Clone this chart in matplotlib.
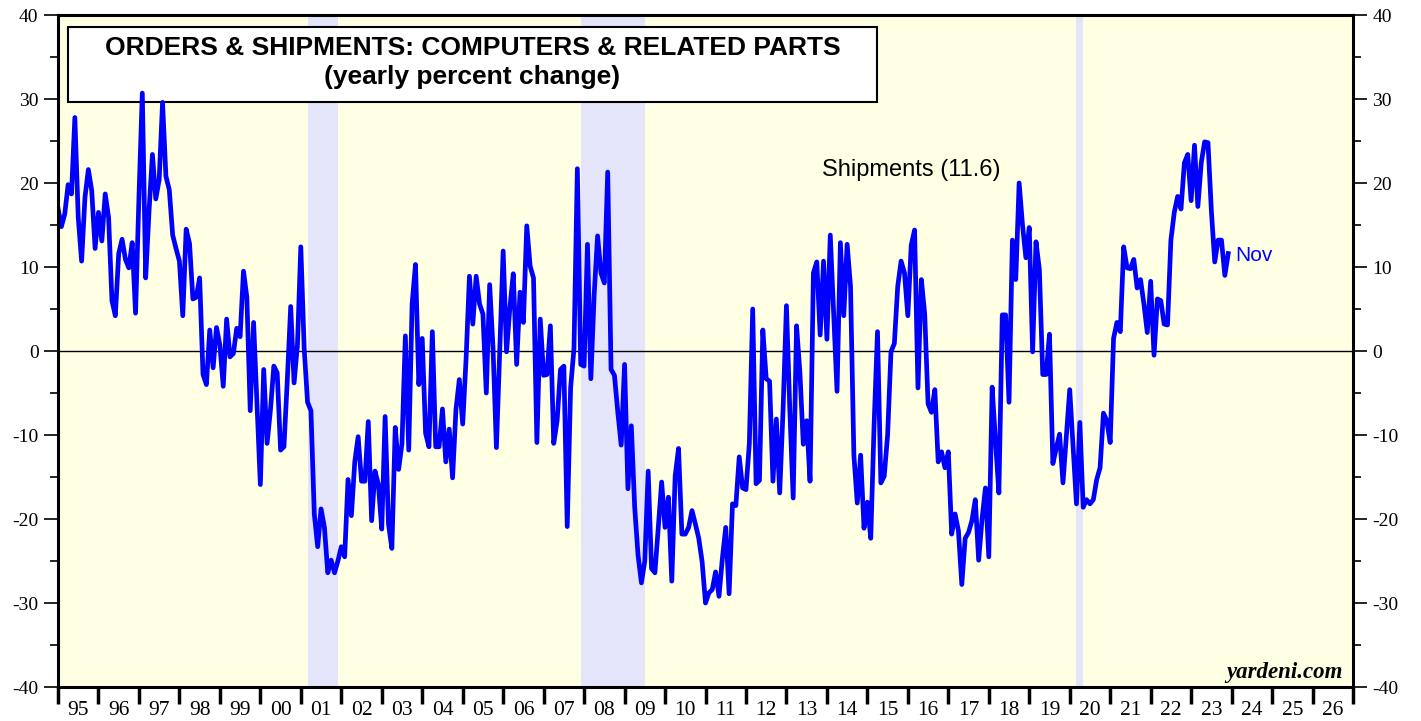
import matplotlib
matplotlib.use("Agg")
import matplotlib.pyplot as plt
from matplotlib.patches import Rectangle
from matplotlib.ticker import FixedLocator, NullFormatter

plt.rcParams["axes.unicode_minus"] = False

# monthly yearly % change, Jan 1995 onward
ship_95_99 = [17.0, 14.8, 16.3, 19.8, 18.7, 27.8, 15.9, 10.7, 18.3, 21.6, 19.1, 12.2,
              16.5, 13.1, 18.7, 15.9, 6.0, 4.2, 11.6, 13.3, 10.9, 9.9, 12.9, 4.5,
              18.3, 30.7, 8.7, 16.7, 23.4, 18.1, 20.4, 29.6, 20.8, 19.2, 13.8, 12.2,
              10.7, 4.2, 14.5, 12.8, 6.2, 6.4, 8.7, -2.8, -4.0, 2.5, -2.0, 2.8,
              0.7, -4.2, 3.8, -0.7, -0.3, 2.7, 1.7, 9.5, 6.4, -7.1, 3.4, -6.3]
ship_00_04 = [-15.9, -2.2, -11.0, -7.0, -1.8, -2.6, -11.8, -11.4, -3.4, 5.3, -3.8, 0.7,
              12.4, 0.3, -6.1, -7.1, -19.4, -23.3, -18.8, -21.0, -26.4, -24.9, -26.4, -25.0,
              -23.3, -24.5, -15.3, -19.6, -13.2, -10.2, -15.5, -15.5, -8.4, -20.2, -14.3, -15.9,
              -21.2, -7.8, -20.6, -23.5, -9.1, -14.1, -11.0, 1.8, -11.8, 5.6, 10.3, -4.0,
              1.5, -9.8, -11.4, 2.3, -11.4, -11.4, -6.9, -13.2, -9.3, -15.1, -7.0, -3.4]
ship_05_09 = [-8.7, -1.0, 8.9, 3.2, 8.9, 5.6, 4.4, -5.0, 7.9, 0.3, -11.5, 0.3,
              11.9, -0.1, 5.2, 9.2, -1.6, 7.0, 3.4, 14.9, 10.1, 8.7, -10.9, 3.8,
              -2.9, -2.8, 3.0, -11.0, -8.3, -2.2, -1.8, -20.9, -4.4, 0.3, 21.7, -1.6,
              -1.8, 12.7, -3.3, 6.8, 13.7, 9.3, 8.1, 21.3, -2.2, -2.9, -7.3, -11.2,
              -1.6, -16.4, -8.9, -18.6, -24.3, -27.6, -25.0, -14.3, -25.9, -26.4, -21.0, -15.6]
ship_10_14 = [-21.0, -17.4, -27.4, -14.9, -11.6, -21.8, -21.8, -21.0, -19.0, -20.6, -22.3, -25.1,
              -30.0, -28.8, -28.4, -26.3, -29.2, -24.7, -21.0, -28.9, -18.2, -18.4, -12.6, -16.3,
              -16.5, -11.0, 5.0, -15.8, -15.4, 2.5, -3.3, -3.6, -15.5, -8.1, -16.9, -7.0,
              5.4, -7.0, -17.5, 3.0, -2.6, -11.1, -8.3, -15.5, 9.3, 10.6, 1.9, 10.7,
              1.4, 13.8, 4.5, -4.8, 12.9, 4.2, 12.7, 7.7, -12.4, -18.1, -12.4, -21.1]
ship_15_19 = [-18.0, -22.3, -8.7, 2.3, -15.7, -14.9, -10.0, -0.1, 0.9, 7.7, 10.7, 9.3,
              4.2, 12.6, 14.4, -4.4, 8.5, 4.4, -6.3, -7.3, -4.6, -13.2, -12.0, -13.9,
              -12.0, -21.8, -19.4, -21.4, -27.8, -22.3, -21.6, -20.2, -17.7, -24.9, -20.0, -16.3,
              -24.5, -4.3, -10.8, -16.9, 4.3, 4.3, -6.1, 13.2, 8.5, 20.0, 15.0, 11.1,
              14.7, -0.1, 13.0, 9.7, -2.8, -2.8, 2.0, -13.4, -11.6, -9.9, -15.7, -10.2]
ship_20_23 = [-4.6, -11.4, -18.2, -8.5, -18.6, -17.7, -18.2, -17.7, -15.3, -13.9, -7.4, -8.3,
              -10.9, 1.5, 3.4, 2.3, 12.4, 9.9, 9.8, 10.9, 7.5, 8.5, 5.6, 2.2,
              8.3, -0.5, 6.2, 6.0, 3.2, 3.1, 13.2, 16.5, 18.4, 16.9, 22.4, 23.4,
              17.9, 24.5, 17.2, 22.4, 24.9, 24.8, 16.7, 10.6, 13.2, 13.2, 9.0, 11.6]

shipments = ship_95_99 + ship_00_04 + ship_05_09 + ship_10_14 + ship_15_19 + ship_20_23
dates = [1995 + i / 12 for i in range(len(shipments))]

recessions = [(2001 + 2 / 12, 2001 + 11 / 12), (2007 + 11 / 12, 2009 + 6 / 12), (2020 + 2 / 12, 2020 + 4 / 12)]
years = list(range(1995, 2027))
year_labels = [f"{y % 100:02d}" for y in years]

fig = plt.figure(figsize=(14.21, 7.21), dpi=100)
ax = fig.add_axes([58 / 1421, 34 / 721, 1295 / 1421, 672 / 721])
ax.set_facecolor("#ffffe4")

for a, b in recessions:
    ax.axvspan(a, b, color="#e4e4fa", lw=0, zorder=1)

ax.axhline(0, color="black", lw=1.0, zorder=2)
ax.plot(dates, shipments, color="#0000ff", lw=3.4, zorder=4, solid_joinstyle="round")

ax.set_xlim(1995, 2027)
ax.set_ylim(-40, 40)

# y axis both sides
ax.set_yticks(range(-40, 41, 10))
ax.yaxis.set_minor_locator(FixedLocator(range(-35, 40, 10)))
ax.tick_params(axis="y", which="both", direction="out", left=True, right=True,
               labelleft=True, labelright=True, labelsize=14, width=1.2, pad=4)
ax.tick_params(axis="y", which="major", length=10)
ax.tick_params(axis="y", which="minor", length=5.5)
for lab in ax.get_yticklabels():
    lab.set_family("Liberation Serif")

# x axis: ticks at year boundaries, labels mid-year
ax.xaxis.set_minor_locator(FixedLocator(range(1995, 2028)))
ax.xaxis.set_minor_formatter(NullFormatter())
ax.set_xticks([y + 0.5 for y in years])
ax.set_xticklabels(year_labels, family="Liberation Serif", fontsize=15.5)
ax.tick_params(axis="x", which="major", length=0, pad=10)
ax.tick_params(axis="x", which="minor", direction="out", length=12, width=2.5)

for s in ax.spines.values():
    s.set_linewidth(2.2)
    s.set_zorder(6)

# title box
ax.add_patch(Rectangle((0.0077, 0.8705), 0.6245, 0.1115, transform=ax.transAxes,
                       facecolor="white", edgecolor="black", lw=1.5, zorder=3))
ax.text(0.320, 0.951, "ORDERS & SHIPMENTS: COMPUTERS & RELATED PARTS", transform=ax.transAxes,
        ha="center", va="center", fontsize=19, fontweight="bold", family="Liberation Sans", zorder=5)
ax.text(0.320, 0.908, "(yearly percent change)", transform=ax.transAxes,
        ha="center", va="center", fontsize=19, fontweight="bold", family="Liberation Sans", zorder=5)

ax.text(2013.88, 21.5, "Shipments (11.6)", ha="left", va="center", fontsize=17,
        family="Liberation Sans", color="black", zorder=5)
ax.text(2024.1, 11.4, "Nov", ha="left", va="center", fontsize=15,
        family="Liberation Sans", color="#0000ff", zorder=5)
ax.text(0.992, 0.022, "yardeni.com", transform=ax.transAxes, ha="right", va="center",
        fontsize=16.5, fontweight="bold", fontstyle="italic", family="Liberation Serif", zorder=5)

fig.savefig("out.png", dpi=100)
